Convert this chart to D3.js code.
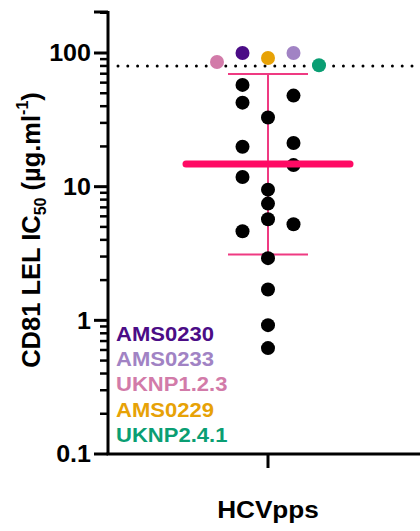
<!DOCTYPE html>
<html>
<head>
<meta charset="utf-8">
<script src="https://cdn.jsdelivr.net/npm/d3@7"></script>
<style>
  body { margin: 0; background: #fff; }
  svg text { font-family: "Liberation Sans", Arial, sans-serif; font-weight: bold; }
</style>
</head>
<body>
<svg id="chart" width="420" height="531"></svg>
<script>
// IC50 values (µg/ml)
var blackValues = [57.7, 48, 42.5, 32.9, 21.2, 19.9, 14.5, 11.8, 9.5, 7.47, 5.7, 5.24, 4.64, 2.92, 1.7, 0.92, 0.62];
// horizontal jitter slot of each black point (-1 left, 0 centre, 1 right)
var blackSlots = [-1, 1, -1, 0, 1, -1, 1, -1, 0, 0, 0, 1, -1, 0, 0, 0, 0];

var strainNames = ["AMS0230", "AMS0233", "UKNP1.2.3", "AMS0229", "UKNP2.4.1"];
var strainValues = [100, 100, 85.7, 91.8, 81];
var strainSlots = [-1, 1, -2, 0, 2];
var strainColors = ["#4b0c86", "#a183c4", "#d27ba9", "#e7a206", "#0a9e73"];

var meanValue = 14.8;
var errLow = 3.11, errHigh = 69.7;
var cutoff = 80;

var yTicks = [0.1, 1, 10, 100];
var yTickLabels = ["0.1", "1", "10", "100"];

var svg = d3.select("#chart");
var stretch = 1.09; // the figure is a bit wider than tall

var decade = (454 - 53) / 3;
var y = d3.scaleLog().domain([0.1, 200]).range([454, 53 - Math.log10(2) * decade]);
var x = d3.scaleLinear().domain([-1, 1]).range([108, 428]); // group centre at 268
var slotW = 25.5;

// y axis: major + minor ticks
var minor = [];
[0.1, 1, 10, 100].forEach(function(d) {
	for (var k = 2; k <= 9; k++) if (d * k <= 200) minor.push(d * k);
});
var yAxis = svg.append("g").attr("transform", "translate(108,0)");
yAxis.append("line").attr("x1", 0).attr("x2", 0).attr("y1", 11).attr("y2", y(0.1))
	.attr("stroke", "#000").attr("stroke-width", 3);
yAxis.selectAll("line.minor").data(minor).enter().append("line")
	.attr("class", "minor")
	.attr("x1", -8).attr("x2", 0)
	.attr("y1", function(d) { return y(d); }).attr("y2", function(d) { return y(d); })
	.attr("stroke", "#000").attr("stroke-width", 2.5);
yAxis.selectAll("line.major").data(yTicks).enter().append("line")
	.attr("class", "major")
	.attr("x1", -14).attr("x2", 0)
	.attr("y1", function(d) { return y(d); }).attr("y2", function(d) { return y(d); })
	.attr("stroke", "#000").attr("stroke-width", 3);
yAxis.append("line").attr("x1", -14).attr("x2", 0).attr("y1", 12).attr("y2", 12)
	.attr("stroke", "#000").attr("stroke-width", 3);
yAxis.selectAll("text").data(yTicks).enter().append("text")
	.attr("transform", function(d) { return "translate(-17," + y(d) + ") scale(" + stretch + ",1)"; })
	.attr("dy", "0.36em")
	.attr("text-anchor", "end")
	.attr("font-size", 23)
	.text(function(d, i) { return yTickLabels[i]; });

// x axis
svg.append("line").attr("x1", 106.5).attr("x2", 420).attr("y1", 454).attr("y2", 454)
	.attr("stroke", "#000").attr("stroke-width", 3);
svg.append("line").attr("x1", x(0)).attr("x2", x(0)).attr("y1", 454).attr("y2", 468)
	.attr("stroke", "#000").attr("stroke-width", 3);
svg.append("text")
	.attr("transform", "translate(" + x(0) + ",518) scale(" + stretch + ",1)")
	.attr("text-anchor", "middle")
	.attr("font-size", 24).text("HCVpps");

// y label
var yl = svg.append("text")
	.attr("transform", "translate(39.5,230) rotate(-90) scale(1,1.04)")
	.attr("text-anchor", "middle")
	.attr("font-size", 25.5);
yl.append("tspan").text("CD81 LEL IC");
yl.append("tspan").attr("font-size", 16).attr("dy", 6).text("50");
yl.append("tspan").attr("dy", -6).text(" (µg.ml");
yl.append("tspan").attr("font-size", 16).attr("dy", -11).text("-1");
yl.append("tspan").attr("dy", 11).text(")");

// cutoff dotted line
svg.append("line").attr("x1", 118).attr("x2", 420)
	.attr("y1", y(cutoff)).attr("y2", y(cutoff))
	.attr("stroke", "#000").attr("stroke-width", 3)
	.attr("stroke-linecap", "round").attr("stroke-dasharray", "0,9.8");

// error bar
var cx = x(0);
svg.append("line").attr("x1", cx).attr("x2", cx).attr("y1", y(errHigh)).attr("y2", y(errLow))
	.attr("stroke", "#ef3a82").attr("stroke-width", 2);
[errHigh, errLow].forEach(function(v) {
	svg.append("line").attr("x1", cx - 40).attr("x2", cx + 40).attr("y1", y(v)).attr("y2", y(v))
		.attr("stroke", "#ef3a82").attr("stroke-width", 2);
});

// points
svg.selectAll("circle.black").data(blackValues).enter().append("circle")
	.attr("class", "black")
	.attr("cx", function(d, i) { return cx + blackSlots[i] * slotW; })
	.attr("cy", function(d) { return y(d); })
	.attr("r", 7).attr("fill", "#000");

// mean line
svg.append("line").attr("x1", cx - 82).attr("x2", cx + 82).attr("y1", y(meanValue)).attr("y2", y(meanValue))
	.attr("stroke", "#ff0a64").attr("stroke-width", 7).attr("stroke-linecap", "round");

svg.selectAll("circle.strain").data(strainValues).enter().append("circle")
	.attr("class", "strain")
	.attr("cx", function(d, i) { return cx + strainSlots[i] * slotW; })
	.attr("cy", function(d) { return y(d); })
	.attr("r", 7)
	.attr("fill", function(d, i) { return strainColors[i]; });

// legend
svg.selectAll("text.legend").data(strainNames).enter().append("text")
	.attr("class", "legend")
	.attr("transform", function(d, i) { return "translate(116," + (340.5 + i * 25.4) + ") scale(1.13,1)"; })
	.attr("font-size", 19.5)
	.attr("fill", function(d, i) { return strainColors[i]; })
	.text(function(d) { return d; });
</script>
</body>
</html>
